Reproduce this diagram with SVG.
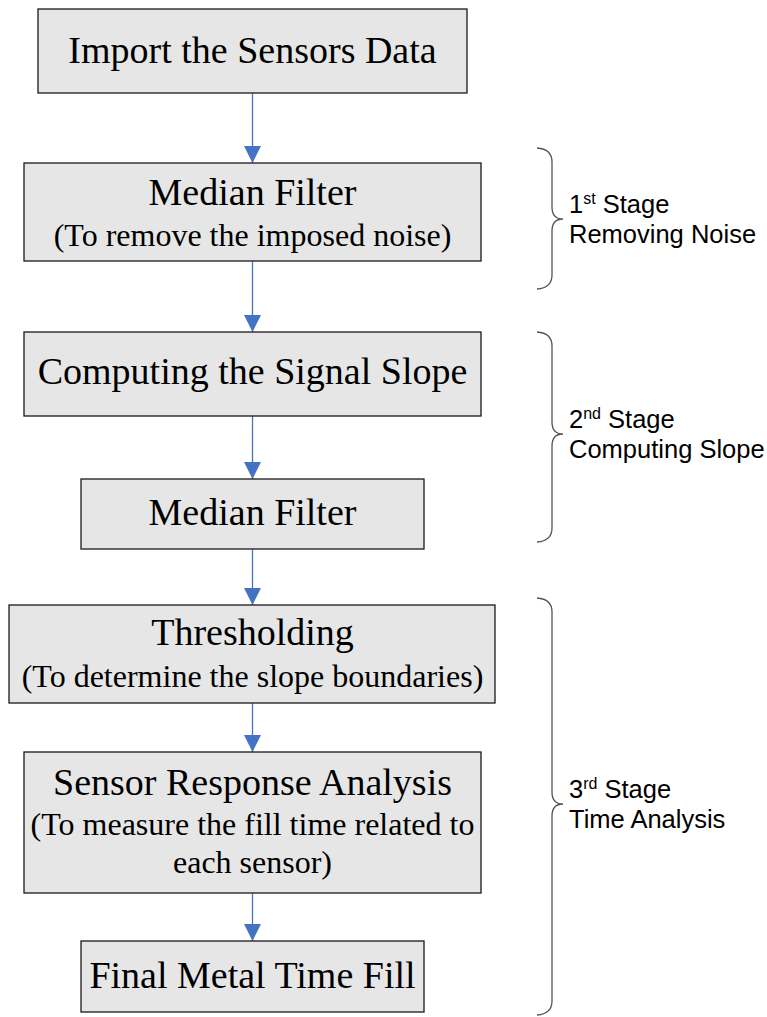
<svg xmlns="http://www.w3.org/2000/svg" width="767" height="1017" viewBox="0 0 767 1017">
  <defs>
    <style>
      .box { fill: #e6e6e6; stroke: #1a1a1a; stroke-width: 1.3; }
      .title { font-family: "Liberation Serif", "Times New Roman", serif; font-size: 38px; fill: #000; text-anchor: middle; }
      .sub { font-family: "Liberation Serif", "Times New Roman", serif; font-size: 32px; fill: #000; text-anchor: middle; }
      .edge { stroke: #4472c4; stroke-width: 1.3; fill: none; marker-end: url(#arrow); }
      .brace { stroke: #555; stroke-width: 1.3; fill: none; }
      .stage { font-family: "Liberation Sans", Arial, sans-serif; font-size: 25.5px; fill: #000; }
      .sup { font-size: 16px; }
    </style>
    <marker id="arrow" markerWidth="17" markerHeight="17" refX="17" refY="8.5" orient="auto" markerUnits="userSpaceOnUse">
      <path d="M0,0 L17,8.5 L0,17 Z" fill="#4472c4"/>
    </marker>
  </defs>

  <rect width="767" height="1017" fill="#ffffff"/>

  <!-- connectors -->
  <g id="connectors">
    <line class="edge" x1="252.5" y1="93" x2="252.5" y2="163"/>
    <line class="edge" x1="252.5" y1="261" x2="252.5" y2="332"/>
    <line class="edge" x1="252.5" y1="416" x2="252.5" y2="479"/>
    <line class="edge" x1="252.5" y1="549" x2="252.5" y2="605"/>
    <line class="edge" x1="252.5" y1="703" x2="252.5" y2="752"/>
    <line class="edge" x1="252.5" y1="893" x2="252.5" y2="941"/>
  </g>

  <!-- process steps -->
  <g id="import">
    <rect class="box" x="38" y="9" width="429" height="84"/>
    <text class="title" x="252.5" y="63">Import the Sensors Data</text>
  </g>
  <g id="median1">
    <rect class="box" x="24" y="163" width="457" height="98"/>
    <text class="title" x="252.5" y="205">Median Filter</text>
    <text class="sub" x="252.5" y="246">(To remove the imposed noise)</text>
  </g>
  <g id="slope">
    <rect class="box" x="24" y="332" width="457" height="84"/>
    <text class="title" x="252.5" y="384">Computing the Signal Slope</text>
  </g>
  <g id="median2">
    <rect class="box" x="81" y="479" width="343" height="70"/>
    <text class="title" x="252.5" y="525">Median Filter</text>
  </g>
  <g id="threshold">
    <rect class="box" x="9" y="605" width="486" height="98"/>
    <text class="title" x="252.5" y="645">Thresholding</text>
    <text class="sub" x="252.5" y="687">(To determine the slope boundaries)</text>
  </g>
  <g id="response">
    <rect class="box" x="24" y="752" width="457" height="141"/>
    <text class="title" x="252.5" y="795">Sensor Response Analysis</text>
    <text class="sub" x="252.5" y="835">(To measure the fill time related to</text>
    <text class="sub" x="252.5" y="873">each sensor)</text>
  </g>
  <g id="final">
    <rect class="box" x="81" y="941" width="343" height="71"/>
    <text class="title" x="252.5" y="988">Final Metal Time Fill</text>
  </g>

  <!-- stage brackets -->
  <g id="stage1">
    <path class="brace" d="M537,148 Q552,149 552,162 L552,207 Q552,219 563,219 Q552,219 552,231 L552,275 Q552,288 537,289"/>
    <text class="stage" x="569" y="213">1<tspan class="sup" dy="-9">st</tspan><tspan dy="9"> Stage</tspan></text>
    <text class="stage" x="569" y="243">Removing Noise</text>
  </g>
  <g id="stage2">
    <path class="brace" d="M537,332 Q552,333 552,346 L552,422 Q552,434 563,434 Q552,434 552,446 L552,528 Q552,541 537,542"/>
    <text class="stage" x="569" y="428">2<tspan class="sup" dy="-9">nd</tspan><tspan dy="9"> Stage</tspan></text>
    <text class="stage" x="569" y="458">Computing Slope</text>
  </g>
  <g id="stage3">
    <path class="brace" d="M537,598 Q552,599 552,612 L552,792 Q552,804 563,804 Q552,804 552,816 L552,1001 Q552,1014 537,1015"/>
    <text class="stage" x="569" y="798">3<tspan class="sup" dy="-9">rd</tspan><tspan dy="9"> Stage</tspan></text>
    <text class="stage" x="569" y="828">Time Analysis</text>
  </g>
</svg>
